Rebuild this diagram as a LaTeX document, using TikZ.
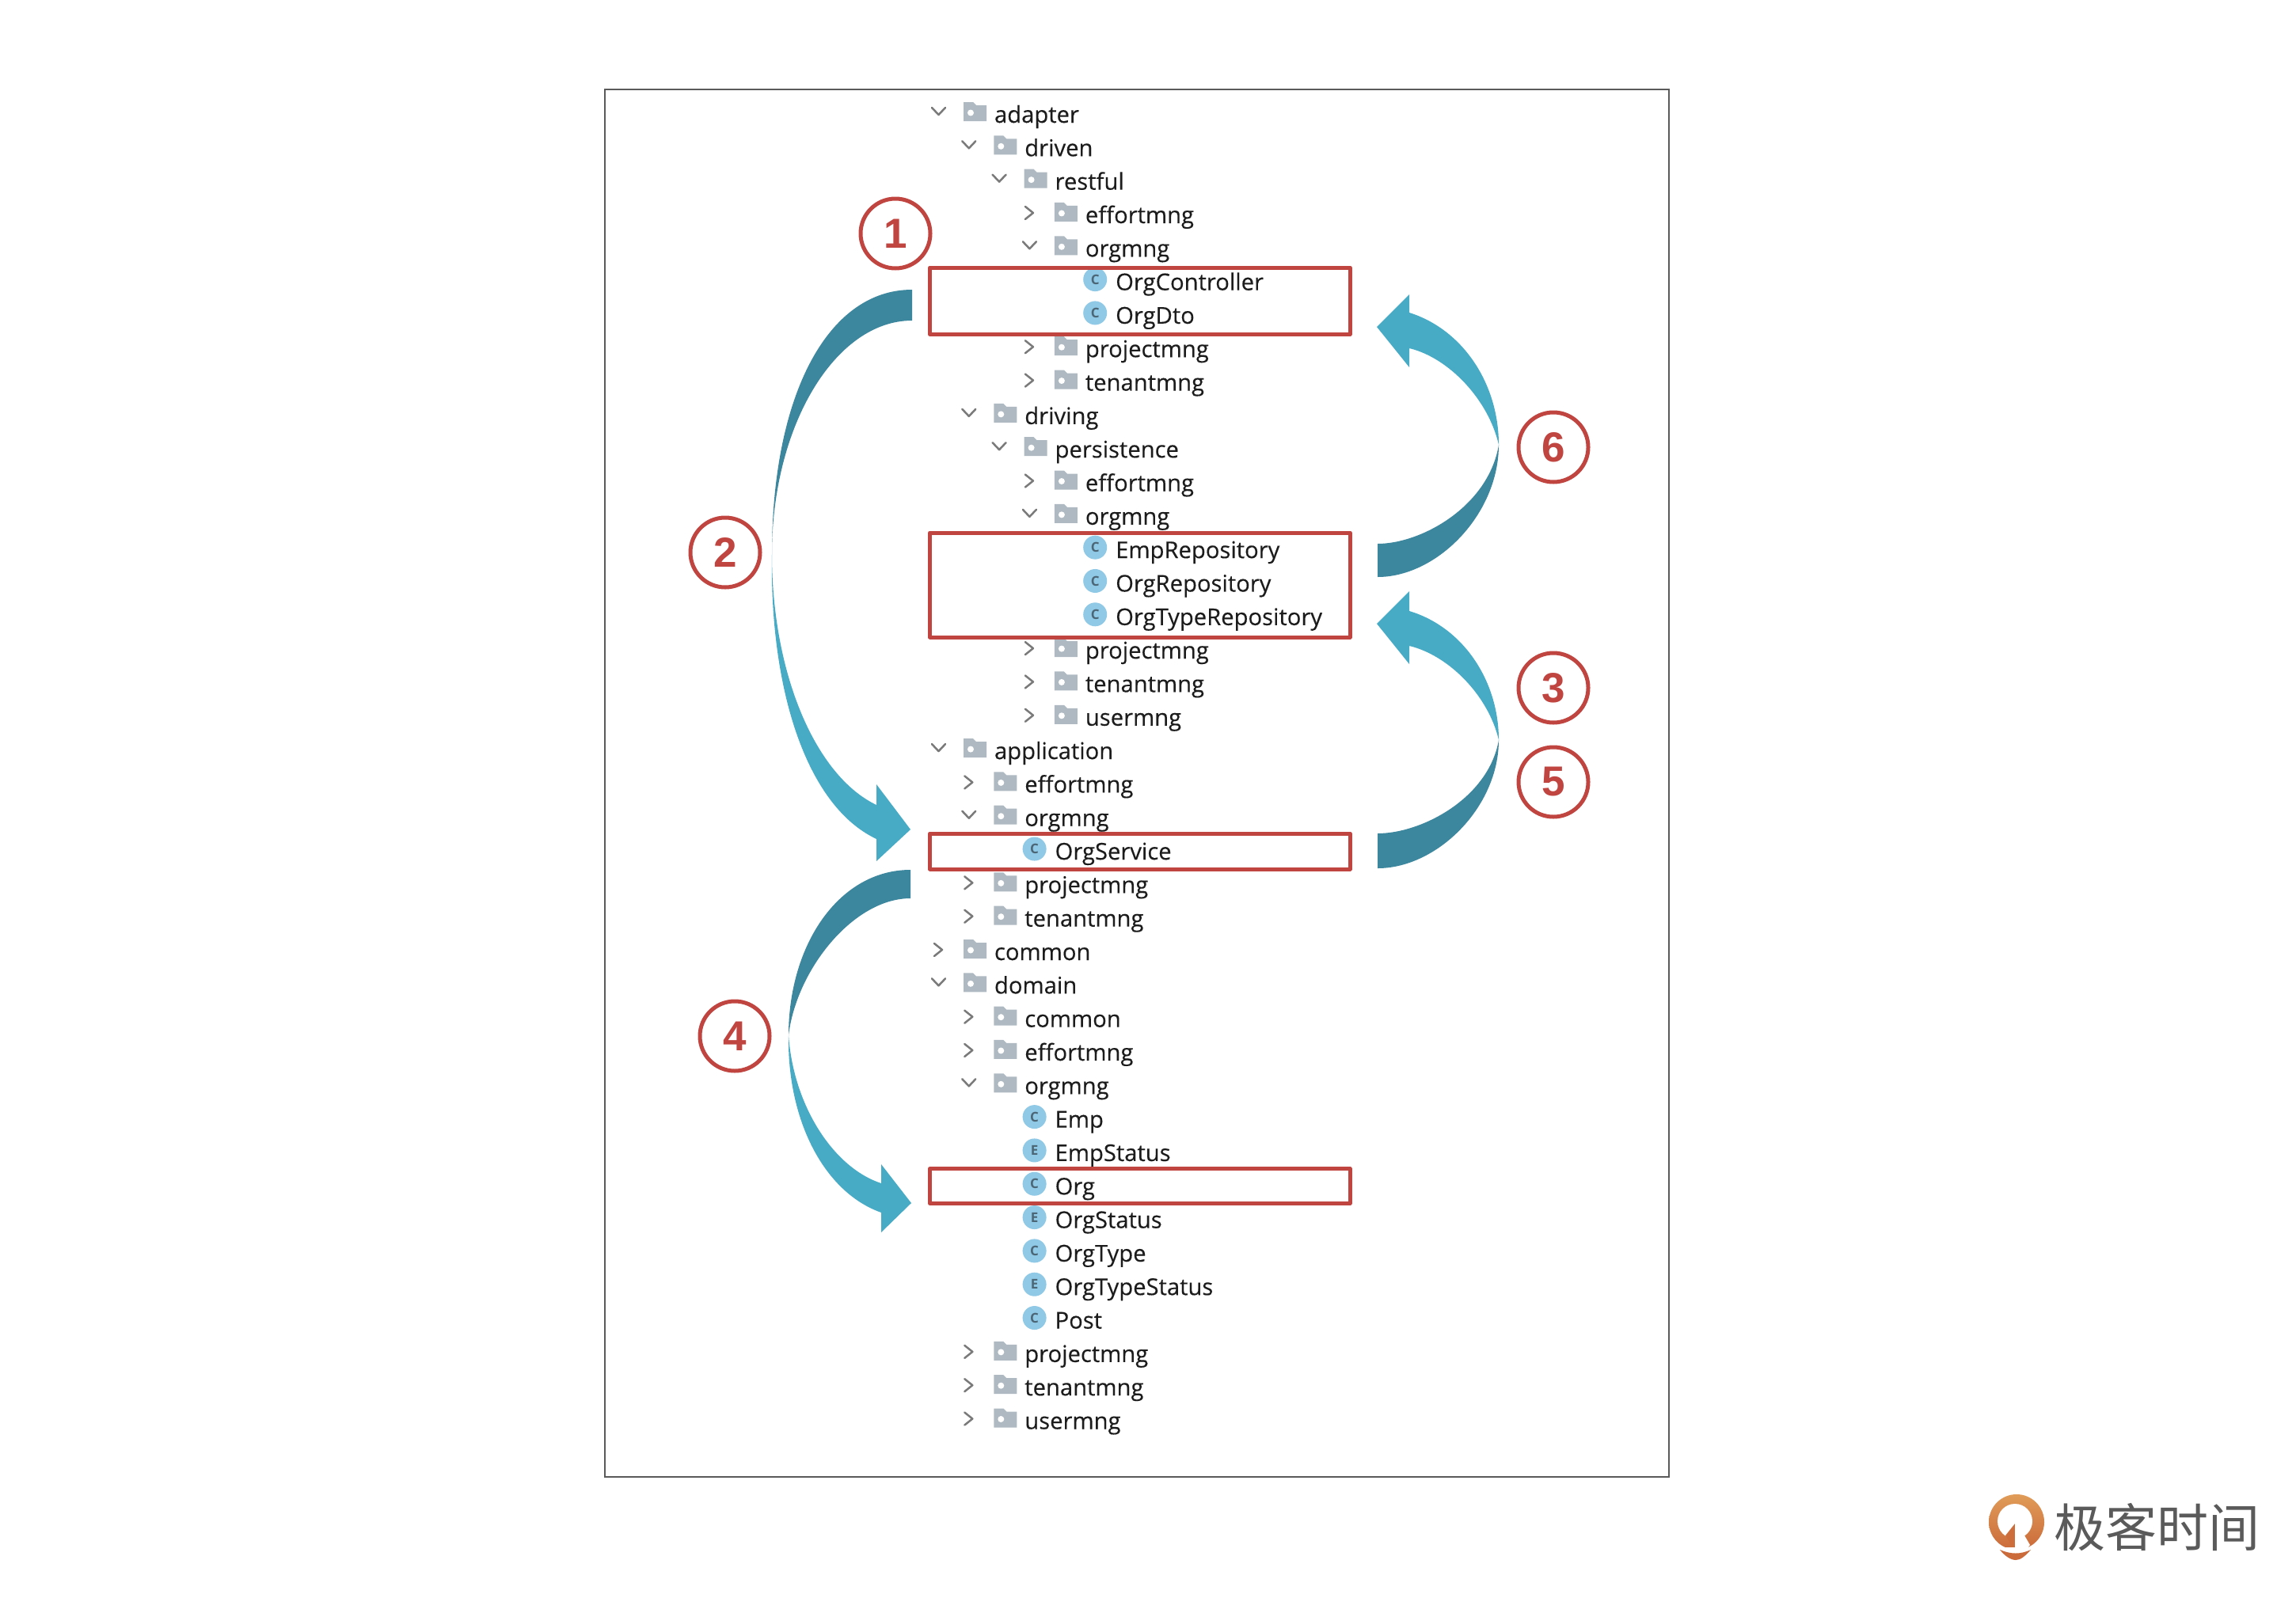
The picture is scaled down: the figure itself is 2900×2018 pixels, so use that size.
\documentclass[tikz,border=0pt]{standalone}
\usepackage{fontspec}
\setmainfont{Open Sans}
\newfontfamily\treefont[FakeBold=0.25]{Open Sans}
\newfontfamily\numfont{Liberation Sans}
\newfontfamily\cjk{Noto Sans CJK SC}
\definecolor{redbox}{HTML}{C0443F}
\definecolor{darkarrow}{HTML}{3C869E}
\definecolor{lightarrow}{HTML}{48ABC6}
\definecolor{foldercol}{HTML}{AEB9C2}
\definecolor{iconcol}{HTML}{8FC9E6}
\definecolor{iconletter}{HTML}{4C6676}
\definecolor{chevcol}{HTML}{7A7A7A}
\definecolor{textcol}{HTML}{1C1C1C}
\definecolor{framecol}{HTML}{5A5A5A}
\definecolor{logotext}{HTML}{5A5A5A}
\definecolor{logotop}{HTML}{E09C58}
\definecolor{logobottom}{HTML}{CB6A3A}
\tikzset{
  rowtext/.style={anchor=base west,inner sep=0pt,outer sep=0pt,text=textcol,font=\treefont\fontsize{14.6}{16}\selectfont},
  chev/.style={draw=chevcol,line width=1.25pt,line cap=round,line join=round},
  redframe/.style={draw=redbox,line width=2.5pt,line join=round},
  numcircle/.style={circle,draw=redbox,line width=2.5pt,minimum size=44pt,inner sep=0pt,text=redbox,font=\numfont\bfseries\fontsize{26.5}{28}\selectfont},
  ribbondark/.style={fill=darkarrow},
  ribbonlight/.style={fill=lightarrow}
}
\newcommand{\TreeFolder}[5]{%
  \begin{scope}[shift={(1256+38.3*#3,153+42.32*#2)}]
    \fill[foldercol] (-39,0) -- (-39,-24) -- (-27,-24) -- (-23,-20) -- (-10,-20) -- (-10,0) -- cycle;
    \fill[white] (-30,-10.5) circle[radius=4];
    \ifnum#4=1
      \draw[chev] (-79,-17) -- (-70.5,-8) -- (-62,-17);
    \else
      \draw[chev] (-76,-19) -- (-66,-11) -- (-76,-3);
    \fi
    \node[rowtext] (#1) at (0,2) {#5};
  \end{scope}}
\newcommand{\TreeClass}[5]{%
  \begin{scope}[shift={(1256+38.3*#3,153+42.32*#2)}]
    \node[circle,fill=iconcol,inner sep=0pt,minimum size=15pt,text=iconletter,font=\bfseries\fontsize{8.5}{9}\selectfont] (#1i) at (-26,-11.5) {#4};
    \node[rowtext] (#1) at (0,2) {#5};
  \end{scope}}
\begin{document}
\begin{tikzpicture}[x=0.5pt,y=-0.5pt]
\useasboundingbox (0,0) rectangle (2900,2018);
\fill[white] (0,0) rectangle (2900,2018);
\draw[framecol,line width=1pt] (764,112.5) rectangle (2108,1866);
% tree
\TreeFolder{r0}{0}{0}{1}{adapter}
\TreeFolder{r1}{1}{1}{1}{driven}
\TreeFolder{r2}{2}{2}{1}{restful}
\TreeFolder{r3}{3}{3}{0}{effortmng}
\TreeFolder{r4}{4}{3}{1}{orgmng}
\TreeClass{r5}{5}{4}{C}{OrgController}
\TreeClass{r6}{6}{4}{C}{OrgDto}
\TreeFolder{r7}{7}{3}{0}{projectmng}
\TreeFolder{r8}{8}{3}{0}{tenantmng}
\TreeFolder{r9}{9}{1}{1}{driving}
\TreeFolder{r10}{10}{2}{1}{persistence}
\TreeFolder{r11}{11}{3}{0}{effortmng}
\TreeFolder{r12}{12}{3}{1}{orgmng}
\TreeClass{r13}{13}{4}{C}{EmpRepository}
\TreeClass{r14}{14}{4}{C}{OrgRepository}
\TreeClass{r15}{15}{4}{C}{OrgTypeRepository}
\TreeFolder{r16}{16}{3}{0}{projectmng}
\TreeFolder{r17}{17}{3}{0}{tenantmng}
\TreeFolder{r18}{18}{3}{0}{usermng}
\TreeFolder{r19}{19}{0}{1}{application}
\TreeFolder{r20}{20}{1}{0}{effortmng}
\TreeFolder{r21}{21}{1}{1}{orgmng}
\TreeClass{r22}{22}{2}{C}{OrgService}
\TreeFolder{r23}{23}{1}{0}{projectmng}
\TreeFolder{r24}{24}{1}{0}{tenantmng}
\TreeFolder{r25}{25}{0}{0}{common}
\TreeFolder{r26}{26}{0}{1}{domain}
\TreeFolder{r27}{27}{1}{0}{common}
\TreeFolder{r28}{28}{1}{0}{effortmng}
\TreeFolder{r29}{29}{1}{1}{orgmng}
\TreeClass{r30}{30}{2}{C}{Emp}
\TreeClass{r31}{31}{2}{E}{EmpStatus}
\TreeClass{r32}{32}{2}{C}{Org}
\TreeClass{r33}{33}{2}{E}{OrgStatus}
\TreeClass{r34}{34}{2}{C}{OrgType}
\TreeClass{r35}{35}{2}{E}{OrgTypeStatus}
\TreeClass{r36}{36}{2}{C}{Post}
\TreeFolder{r37}{37}{1}{0}{projectmng}
\TreeFolder{r38}{38}{1}{0}{tenantmng}
\TreeFolder{r39}{39}{1}{0}{usermng}
% red boxes
\draw[redframe] (1174.5,338) rectangle (1705,422.5);
\draw[redframe] (1174.5,673) rectangle (1705,805);
\draw[redframe] (1174.5,1053) rectangle (1705,1098);
\draw[redframe] (1174.5,1476.5) rectangle (1705,1520.5);
% arrow 2 (left, long)
\fill[ribbondark] (1152,366) .. controls (1045,366) and (975,500) .. (975,700)
  .. controls (975,538) and (1055,405) .. (1152,405) -- cycle;
\fill[ribbonlight] (975,700) .. controls (975,850) and (1029.5,980) .. (1107,1017)
  -- (1107,991) -- (1150,1048) -- (1107,1088) -- (1107,1060)
  .. controls (1018,1018) and (972,870) .. (975,700) -- cycle;
% arrow 4 (left, short)
\fill[ribbondark] (1150,1099) .. controls (1060,1099) and (996,1193) .. (996,1308)
  .. controls (1006,1225) and (1078,1135) .. (1150,1135) -- cycle;
\fill[ribbonlight] (996,1308) .. controls (1002,1396) and (1052,1475) .. (1113,1495)
  -- (1113,1471) -- (1151,1520) -- (1113,1557) -- (1113,1532)
  .. controls (1040,1506) and (994,1414) .. (996,1308) -- cycle;
% arrow 6 (right, top)
\fill[ribbondark] (1740,729) .. controls (1815,729) and (1893,650) .. (1893,562)
  .. controls (1880,640) and (1795,687) .. (1740,687) -- cycle;
\fill[ribbonlight] (1893,562) .. controls (1880,505) and (1830,452) .. (1780,440)
  -- (1780,464) -- (1739,413) -- (1780,372) -- (1780,395)
  .. controls (1847,416) and (1893,484) .. (1893,562) -- cycle;
% arrow 3/5 (right, bottom)
\fill[ribbondark] (1740,1097) .. controls (1815,1097) and (1893,1020) .. (1893,935)
  .. controls (1880,1009) and (1795,1053) .. (1740,1053) -- cycle;
\fill[ribbonlight] (1893,935) .. controls (1880,879) and (1830,828) .. (1780,816)
  -- (1780,839) -- (1739,788) -- (1780,747) -- (1780,772)
  .. controls (1847,792) and (1893,859) .. (1893,935) -- cycle;
% number circles
\node[numcircle] (n1) at (1131,295) {1};
\node[numcircle] (n2) at (916,698) {2};
\node[numcircle] (n3) at (1962,869) {3};
\node[numcircle] (n4) at (928,1309) {4};
\node[numcircle] (n5) at (1962,988) {5};
\node[numcircle] (n6) at (1962,565) {6};
% logo
\shade[top color=logotop,bottom color=logobottom] (2547,1923) circle[radius=35];
\fill[white] (2545,1922) circle[radius=22];
\fill[logobottom!95!logotop]
  (2545,1925) -- (2533,1940) -- (2545,1960) -- cycle;
\fill[white] (2545,1922) -- (2557,1922) -- (2557,1940) -- (2564,1952) -- (2557,1961) -- (2545,1961) -- cycle;
\fill[white] (2522,1955) rectangle (2570,1960);
\fill[logobottom] (2526,1958) .. controls (2540,1964) and (2552,1964) .. (2565,1958)
  .. controls (2558,1966) and (2552,1971) .. (2546,1971) .. controls (2540,1971) and (2532,1966) .. (2526,1958) -- cycle;
\node[anchor=west,inner sep=0pt,text=logotext,font=\cjk\fontsize{32.5}{34}\selectfont] (logo) at (2594,1930) {极客时间};
\end{tikzpicture}
\end{document}
